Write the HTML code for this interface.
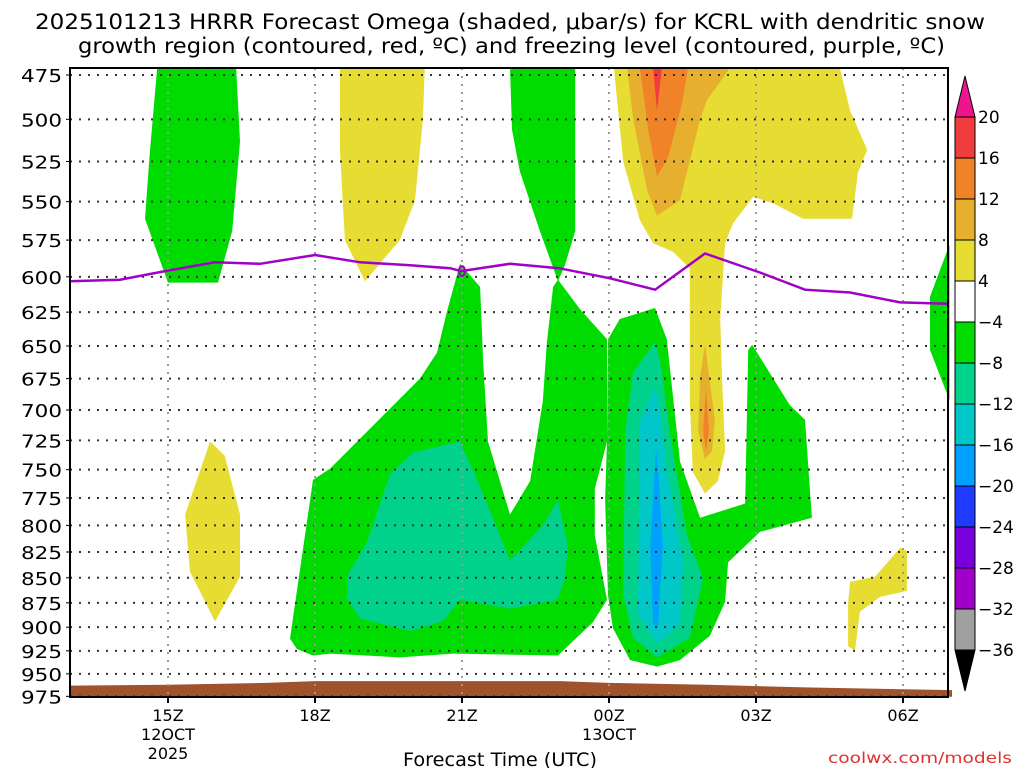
<!DOCTYPE html>
<html><head><meta charset="utf-8"><style>
body{margin:0;background:#fff;width:1024px;height:768px;overflow:hidden}
svg{display:block;font-family:"DejaVu Sans","Liberation Sans",sans-serif}
</style></head><body>
<svg id="chart" width="1024" height="768" viewBox="0 0 1024 768" xmlns="http://www.w3.org/2000/svg">
<text x="35" y="29" font-size="21" textLength="950" lengthAdjust="spacingAndGlyphs">2025101213 HRRR Forecast Omega (shaded, μbar/s) for KCRL with dendritic snow</text>
<text x="78" y="53" font-size="21" textLength="867" lengthAdjust="spacingAndGlyphs">growth region (contoured, red, ºC) and freezing level (contoured, purple, ºC)</text>
<g id="fills"></g>
<g id="grid"></g>
<g id="lines"></g>
<rect x="70" y="68" width="878" height="629" fill="none" stroke="#000" stroke-width="2"/>
<g id="axes"></g>
<g id="cbar"></g>
<text x="403" y="766" font-size="19" textLength="194" lengthAdjust="spacingAndGlyphs">Forecast Time (UTC)</text>
<text x="828" y="763" font-size="15" fill="#e03030" textLength="184" lengthAdjust="spacingAndGlyphs">coolwx.com/models</text>
</svg>
<script>
// ---- data ----
const pressureTicks=[475,500,525,550,575,600,625,650,675,700,725,750,775,800,825,850,875,900,925,950,975];
const timeTicks=[15,18,21,24,27,30];
const timeLabels=["15Z","18Z","21Z","00Z","03Z","06Z"];
const dateLabels={15:["12OCT","2025"],24:["13OCT"]};
const cbarLevels=[20,16,12,8,4,-4,-8,-12,-16,-20,-24,-28,-32,-36];
const cbarColors=["#f03c3c","#f08228","#e6af2d","#e6dc32","#ffffff","#00dc00","#00d28c","#00c8c8","#00a0ff","#1e3cff","#7800dc","#a000c8","#a0a0a0"];
const freezeHours=[13,14.02,14.94,15.96,16.88,18,18.92,19.94,20.76,20.98,21.98,22.98,24.02,24.94,25.96,27.08,28,28.92,29.94,30.92];
const freezeP=[603,602,596,590,591,585,590,592,594,596,591,594,601,609,584,597,609,611,618,619];
const terrainHours=[13,15,17,18,21,23,24,26,28,30,31];
const terrainP=[963,962,960,958,958,958,960,962,965,967,968];
const greenA=[[14.78,471],[16.39,471],[16.47,513],[16.31,569],[16.02,604],[15.0,604],[14.53,561],[14.63,519]];
const yellowB=[[18.51,471],[20.24,471],[20.2,501],[20.04,549],[19.73,575],[19.02,603],[18.61,575],[18.51,519]];
const greenTop=[[21.98,471],[22.02,506],[22.18,531],[22.59,569],[22.96,603],[23.1,592],[23.31,569],[23.31,471]];
const greenBig=[[17.49,912],[17.96,759],[18.31,749],[20.14,675],[20.49,655],[20.69,625],[20.96,591],[21.37,607],[21.43,661],[21.53,726],[21.98,790],[22.39,760],[22.65,693],[22.73,648],[22.86,607],[22.96,602],[23.41,623],[23.96,645],[23.96,726],[23.71,767],[23.71,809],[23.96,872],[23.67,895],[23.06,925],[22.96,930],[20.82,928],[19.73,932],[18.31,928],[17.96,930],[17.63,923]];
const tealBig=[[20.96,726],[20.0,735],[19.53,754],[19.06,816],[18.67,847],[18.65,871],[18.92,891],[19.94,904],[20.61,894],[20.96,872],[21.98,881],[22.94,872],[23.1,851],[23.16,819],[22.96,777],[22.65,800],[21.98,833],[21.43,771]];
const greenRight=[[23.98,645],[24.22,630],[24.94,622],[25.18,645],[25.45,743],[25.86,793],[26.78,780],[26.84,653],[26.92,649],[27.69,696],[28.0,708],[28.14,793],[27.08,806],[26.43,835],[26.37,874],[26.06,909],[25.45,935],[24.98,942],[24.43,935],[24.08,901],[23.98,867],[23.92,777],[23.96,726]];
const tealRight=[[24.94,647],[24.49,670],[24.33,718],[24.29,867],[24.49,911],[24.98,932],[25.65,911],[25.92,851],[25.59,809],[25.24,718],[25.04,661]];
const cyanRight=[[24.94,682],[24.63,709],[24.59,887],[24.98,917],[25.45,897],[25.51,834],[25.18,749],[25.04,701]];
const blueRight=[[24.96,732],[24.84,819],[24.9,897],[25.0,899],[25.1,819],[25.0,749]];
const yellowTop=[[24.1,471],[24.29,525],[24.63,562],[24.9,577],[25.31,583],[25.65,594],[25.65,693],[25.71,752],[25.96,771],[26.22,760],[26.37,734],[26.31,677],[26.27,630],[26.37,577],[26.53,564],[26.94,547],[27.35,551],[27.96,561],[28.96,561],[29.08,532],[29.27,518],[28.92,495],[28.71,471]];
const goldTop=[[24.37,471],[24.49,499],[24.78,543],[24.98,559],[25.45,549],[25.86,500],[26.0,489],[26.47,471]];
const goldLow=[[25.96,649],[26.16,708],[26.1,734],[25.96,741],[25.82,717],[25.86,674]];
const orangeLow=[[25.98,683],[26.04,717],[25.98,734],[25.92,717]];
const orangeTop=[[24.63,471],[24.8,506],[24.98,534],[25.2,523],[25.49,491],[25.61,471]];
const redTop=[[24.9,471],[24.98,495],[25.08,471]];
const yellowLeft=[[15.86,726],[16.16,738],[16.47,790],[16.47,849],[15.96,894],[15.76,874],[15.45,844],[15.35,790]];
const yellowRight=[[28.92,854],[29.43,849],[29.94,821],[30.08,824],[30.08,863],[29.53,869],[29.12,884],[29.02,925],[28.88,920],[28.88,875]];
const greenEdge=[[30.95,578],[30.55,614],[30.55,653],[30.95,692]];

// ---- axes ----
const X=h=>168+(h-15)*49;
const Y=p=>75+864*Math.log(p/475);
const NS="http://www.w3.org/2000/svg";
function mk(tag,parent,attrs){const e=document.createElementNS(NS,tag);for(const k in attrs)e.setAttribute(k,attrs[k]);parent.appendChild(e);return e;}
const fills=document.getElementById('fills');
function poly(pts,color,name){
  const e=mk('polygon',fills,{points:pts.map(p=>X(p[0]).toFixed(1)+','+Y(p[1]).toFixed(1)).join(' '),fill:color});
  
  
}
poly(greenA,"#00dc00","green-region-a");
poly(yellowB,"#e6dc32","yellow-region-b");
poly(greenTop,"#00dc00","green-region-top");
poly(greenBig,"#00dc00","green-region-main");
poly(tealBig,"#00d28c","teal-region-main");
poly(greenRight,"#00dc00","green-region-right");
poly(tealRight,"#00d28c","teal-region-right");
poly(cyanRight,"#00c8c8","cyan-region-right");
poly(blueRight,"#00a0ff","blue-region-right");
poly(yellowTop,"#e6dc32","yellow-region-top");
poly(goldTop,"#e6af2d","gold-region-top");
poly(goldLow,"#e6af2d","gold-region-low");
poly(orangeLow,"#f08228","orange-region-low");
poly(orangeTop,"#f08228","orange-region-top");
poly(redTop,"#f03c3c","red-region-top");
poly(yellowLeft,"#e6dc32","yellow-region-left");
poly(yellowRight,"#e6dc32","yellow-region-right");
poly(greenEdge,"#00dc00","green-region-edge");
{
  let d='M'+X(terrainHours[0])+','+Y(975.5);
  terrainHours.forEach((h,i)=>{d+=' L'+X(h).toFixed(1)+','+Y(terrainP[i]).toFixed(1);});
  d+=' L'+X(terrainHours[terrainHours.length-1])+','+Y(975.5)+' Z';
  const t=mk('path',fills,{d:d,fill:"#a0522d"});
  
  
}
const grid=document.getElementById('grid');
pressureTicks.forEach(p=>{
  const l=mk('line',grid,{x1:70,x2:948,y1:Y(p),y2:Y(p),stroke:"#333","stroke-width":2,"stroke-dasharray":"2,7"});
  
  
});
timeTicks.forEach(h=>{
  const l=mk('line',grid,{x1:X(h),x2:X(h),y1:68,y2:697,stroke:"#999","stroke-width":2,"stroke-dasharray":"2,6"});
  
  
});
const lines=document.getElementById('lines');
{
  const fl=mk('polyline',lines,{points:freezeHours.map((h,i)=>X(h).toFixed(1)+','+Y(freezeP[i]).toFixed(1)).join(' '),fill:"none",stroke:"#a000c8","stroke-width":2.5});
  
  
  const lb=mk('ellipse',lines,{cx:X(21),cy:Y(596),rx:3,ry:5,fill:"none",stroke:"#a000c8","stroke-width":2});
  
  
}
const axes=document.getElementById('axes');
pressureTicks.forEach(p=>{
  const t=mk('text',axes,{x:21,y:Y(p)+7,"font-size":18,textLength:41,lengthAdjust:"spacingAndGlyphs"});
  t.textContent=p;
  
  
  const tk=mk('line',axes,{x1:66,x2:70,y1:Y(p),y2:Y(p),stroke:"#000"});
  
  
});
timeTicks.forEach((h,i)=>{
  const tk=mk('line',axes,{x1:X(h),x2:X(h),y1:697,y2:703,stroke:"#000","stroke-width":2});
  
  
  const t=mk('text',axes,{x:X(h),y:721,"font-size":16,"text-anchor":"middle"});
  t.textContent=timeLabels[i];
  
  
  (dateLabels[h]||[]).forEach((s,j)=>{
    const d=mk('text',axes,{x:X(h),y:740+j*19,"font-size":16,"text-anchor":"middle"});
    d.textContent=s;
    
    
  });
});
const cb=document.getElementById('cbar');
const cbTop=117,cbStep=41,cbX=955,cbW=20;
{
  const tri=mk('polygon',cb,{points:`${cbX},${cbTop} ${cbX+cbW},${cbTop} ${cbX+cbW/2},76`,fill:"#f0148c",stroke:"#000"});
  
  
  const bot=cbTop+cbStep*(cbarLevels.length-1);
  const tri2=mk('polygon',cb,{points:`${cbX},${bot} ${cbX+cbW},${bot} ${cbX+cbW/2},691`,fill:"#000",stroke:"#000"});
  
  
}
cbarColors.forEach((c,i)=>{
  const r=mk('rect',cb,{x:cbX,y:cbTop+i*cbStep,width:cbW,height:cbStep,fill:c,stroke:"#000","stroke-width":1});
  
  
});
cbarLevels.forEach((v,i)=>{
  const t=mk('text',cb,{x:978,y:cbTop+i*cbStep+6,"font-size":17});
  t.textContent=v<0?'\u2212'+(-v):String(v);
  
  
});
</script>
</body></html>
